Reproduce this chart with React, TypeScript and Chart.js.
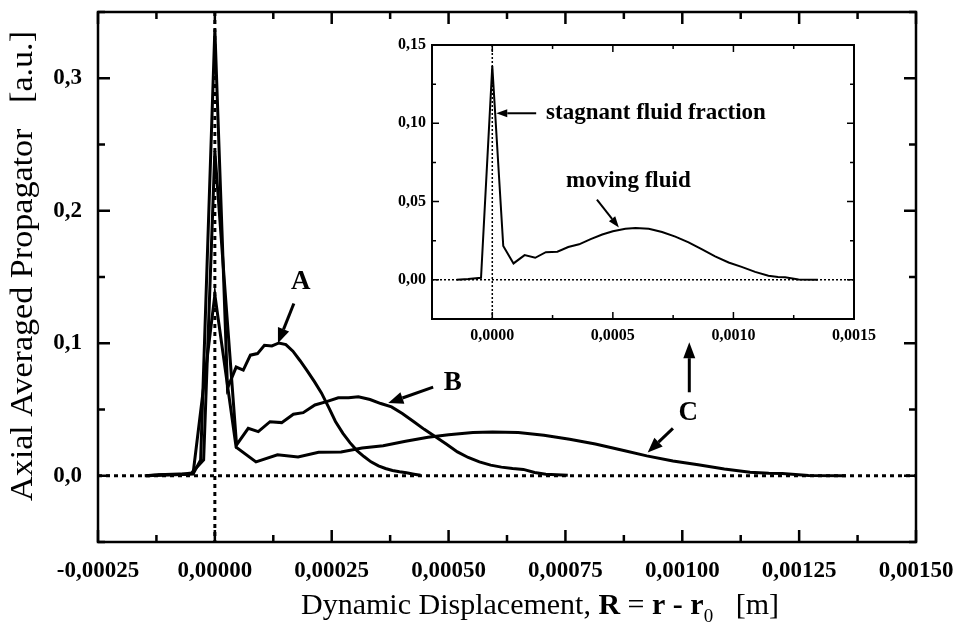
import React, { useEffect, useRef } from 'react';
import { Chart, registerables } from 'chart.js';
Chart.register(...registerables);

const SERIF = '"Liberation Serif", "Times New Roman", serif';

// ---- data (curve A, B, C) ----
const aX = [-0.000144, -0.000122, -0.000106, -0.0000912, -0.000076, -0.0000608, -0.0000456, -0.0000304, -0.0000152, 0, 0.0000152, 0.000027, 0.0000456, 0.0000608, 0.000076, 0.0000912, 0.000106, 0.000122, 0.000137, 0.000152, 0.000167, 0.000182, 0.000198, 0.000213, 0.000228, 0.000243, 0.000258, 0.000274, 0.000289, 0.000304, 0.000319, 0.000334, 0.00035, 0.000365, 0.00038, 0.000395, 0.00041, 0.000426, 0.00044];
const aY = [0, 0.0005, 0.001, 0.0012, 0.0013, 0.0012, 0.002, 0.012, 0.175, 0.337, 0.185, 0.066, 0.082, 0.0797, 0.091, 0.0922, 0.0985, 0.098, 0.1002, 0.099, 0.094, 0.087, 0.079, 0.071, 0.0625, 0.052, 0.041, 0.032, 0.025, 0.019, 0.0145, 0.0105, 0.0075, 0.0055, 0.004, 0.003, 0.0022, 0.0012, 0.0004];

const bX = [-0.00015, -0.00012, -0.00009, -0.00007, -0.00005, -0.000024, 0, 0.000023, 0.0000464, 0.0000714, 0.0000929, 0.000118, 0.000143, 0.000168, 0.000189, 0.000214, 0.000239, 0.000264, 0.000286, 0.000307, 0.000332, 0.000355, 0.000378, 0.000401, 0.000425, 0.000448, 0.000472, 0.000495, 0.000519, 0.000542, 0.000566, 0.00059, 0.000613, 0.000637, 0.00066, 0.000684, 0.000708, 0.000731, 0.000755];
const bY = [0, 0.0008, 0.001, 0.0012, 0.002, 0.012, 0.245, 0.134, 0.0233, 0.0358, 0.0333, 0.0408, 0.0401, 0.0464, 0.0476, 0.0534, 0.0559, 0.0589, 0.0589, 0.0596, 0.0575, 0.0545, 0.052, 0.047, 0.041, 0.035, 0.0295, 0.024, 0.018, 0.0138, 0.0105, 0.008, 0.0065, 0.0055, 0.0048, 0.0025, 0.0012, 0.0008, 0.0003];

const cX = [-0.000148, -0.0001, -0.0000467, 0, 0.0000455, 0.000088, 0.000134, 0.000178, 0.000222, 0.00027, 0.000315, 0.00036, 0.000408, 0.000456, 0.0005, 0.000552, 0.000594, 0.000649, 0.000704, 0.000759, 0.000814, 0.00087, 0.000924, 0.00098, 0.001034, 0.00109, 0.001145, 0.001185, 0.001214, 0.00127, 0.00135];
const cY = [0, 0.0005, 0.0013, 0.1365, 0.0216, 0.0105, 0.0158, 0.0141, 0.0177, 0.018, 0.021, 0.0227, 0.026, 0.029, 0.031, 0.0327, 0.0331, 0.0327, 0.0306, 0.0276, 0.024, 0.0194, 0.015, 0.0111, 0.0083, 0.0051, 0.0026, 0.0018, 0.0017, 0.0002, 0];

// ---- ticks ----
const mainXTicks = [-0.00025, 0, 0.00025, 0.0005, 0.00075, 0.001, 0.00125, 0.0015];
const mainXMinor = [-0.000125, 0.000125, 0.000375, 0.000625, 0.000875, 0.001125, 0.001375];
const mainYTicks = [0, 0.1, 0.2, 0.3];
const mainYMinor = [-0.05, 0.05, 0.15, 0.25, 0.35];
const insetXTicks = [0, 0.0005, 0.001, 0.0015];
const insetXMinor = [-0.00025, 0.00025, 0.00075, 0.00125];
const insetYTicks = [0, 0.05, 0.1, 0.15];
const insetYMinor = [-0.025, 0.025, 0.075, 0.125];

const pts = (xs: number[], ys: number[]) => xs.map((x, i) => ({ x, y: ys[i] }));
const comma = (v: number, d: number) => v.toFixed(d).replace('.', ',');

function drawArrow(ctx: CanvasRenderingContext2D, x1: number, y1: number, x2: number, y2: number, lw: number, hl: number, hw: number) {
  const ang = Math.atan2(y2 - y1, x2 - x1);
  const bx = x2 - hl * Math.cos(ang);
  const by = y2 - hl * Math.sin(ang);
  ctx.lineWidth = lw;
  ctx.beginPath();
  ctx.moveTo(x1, y1);
  ctx.lineTo(bx, by);
  ctx.stroke();
  ctx.beginPath();
  ctx.moveTo(x2, y2);
  ctx.lineTo(bx + (hw / 2) * Math.sin(ang), by - (hw / 2) * Math.cos(ang));
  ctx.lineTo(bx - (hw / 2) * Math.sin(ang), by + (hw / 2) * Math.cos(ang));
  ctx.closePath();
  ctx.fill();
}

function framePlugin(cfg: any) {
  return {
    id: 'frame' + cfg.name,
    beforeDatasetsDraw(chart: any) {
      const { ctx, chartArea, scales } = chart;
      const { left, right, top, bottom } = chartArea;
      const x = scales.x, y = scales.y;
      ctx.save();
      ctx.strokeStyle = '#000';
      ctx.lineWidth = cfg.zeroLw;
      ctx.setLineDash(cfg.zeroDash);
      const y0 = y.getPixelForValue(0);
      const x0 = x.getPixelForValue(0);
      ctx.beginPath();
      ctx.moveTo(left, y0);
      ctx.lineTo(right, y0);
      ctx.moveTo(x0, top);
      ctx.lineTo(x0, bottom);
      ctx.stroke();
      ctx.restore();
    },
    afterDatasetsDraw(chart: any) {
      const { ctx, chartArea, scales } = chart;
      const { left, right, top, bottom } = chartArea;
      const x = scales.x, y = scales.y;
      ctx.save();
      ctx.strokeStyle = '#000';
      ctx.fillStyle = '#000';
      ctx.lineWidth = cfg.lw;
      ctx.strokeRect(left, top, right - left, bottom - top);
      const tick = (vals: number[], len: number) => {
        ctx.beginPath();
        for (const v of vals) {
          const px = x.getPixelForValue(v);
          if (px < left - 1 || px > right + 1) continue;
          ctx.moveTo(px, bottom);
          ctx.lineTo(px, bottom - len);
          ctx.moveTo(px, top);
          ctx.lineTo(px, top + len);
        }
        ctx.stroke();
      };
      const tickY = (vals: number[], len: number) => {
        ctx.beginPath();
        for (const v of vals) {
          const py = y.getPixelForValue(v);
          if (py < top - 1 || py > bottom + 1) continue;
          ctx.moveTo(left, py);
          ctx.lineTo(left + len, py);
          ctx.moveTo(right, py);
          ctx.lineTo(right - len, py);
        }
        ctx.stroke();
      };
      ctx.lineWidth = cfg.tickLw;
      tick(cfg.xMajor, cfg.major);
      tick(cfg.xMinor, cfg.minor);
      tickY(cfg.yMajor, cfg.major);
      tickY(cfg.yMinor, cfg.minor);
      if (cfg.annotate) cfg.annotate(ctx, x, y, chart);
      ctx.restore();
    },
  };
}

function annotateMain(ctx: CanvasRenderingContext2D, x: any, y: any, chart: any) {
  const X = (v: number) => x.getPixelForValue(v);
  const Y = (v: number) => y.getPixelForValue(v);
  ctx.font = `bold 27px ${SERIF}`;
  ctx.textAlign = 'center';
  ctx.textBaseline = 'middle';
  ctx.fillText('A', X(0.000184), Y(0.146));
  ctx.fillText('B', X(0.000509), Y(0.0697));
  ctx.fillText('C', X(0.001013), Y(0.047));
  drawArrow(ctx, X(0.000169), Y(0.13), X(0.000135), Y(0.1), 3, 15, 12);
  drawArrow(ctx, X(0.000467), Y(0.0669), X(0.000371), Y(0.0549), 3, 15, 12);
  drawArrow(ctx, X(0.001015), Y(0.063), X(0.001015), Y(0.1008), 3, 16, 12);
  drawArrow(ctx, X(0.00098), Y(0.0358), X(0.000926), Y(0.0175), 3, 15, 12);

  // y axis title (stretched along its length to the reference span)
  const ca = chart.chartArea;
  ctx.save();
  ctx.font = `31px ${SERIF}`;
  const yTitle = 'Axial Averaged Propagator   [a.u.]';
  const w = ctx.measureText(yTitle).width;
  ctx.translate(24, 266);
  ctx.rotate(-Math.PI / 2);
  ctx.scale(470 / w, 1);
  ctx.textAlign = 'center';
  ctx.textBaseline = 'middle';
  ctx.fillText(yTitle, 0, 0);
  ctx.restore();

  const segs = [
    { t: 'Dynamic Displacement, ', f: `30px ${SERIF}`, dy: 0 },
    { t: 'R', f: `bold 30px ${SERIF}`, dy: 0 },
    { t: ' = ', f: `30px ${SERIF}`, dy: 0 },
    { t: 'r', f: `bold 30px ${SERIF}`, dy: 0 },
    { t: ' - ', f: `bold 30px ${SERIF}`, dy: 0 },
    { t: 'r', f: `bold 30px ${SERIF}`, dy: 0 },
    { t: '0', f: `19px ${SERIF}`, dy: 8 },
    { t: '   [m]', f: `30px ${SERIF}`, dy: 0 },
  ];
  let total = 0;
  for (const s of segs) {
    ctx.font = s.f;
    total += ctx.measureText(s.t).width;
  }
  let cx = 540 - total / 2;
  ctx.textAlign = 'left';
  ctx.textBaseline = 'alphabetic';
  for (const s of segs) {
    ctx.font = s.f;
    ctx.fillText(s.t, cx, 614 + s.dy);
    cx += ctx.measureText(s.t).width;
  }
}

function annotateInset(ctx: CanvasRenderingContext2D, x: any, y: any) {
  const X = (v: number) => x.getPixelForValue(v);
  const Y = (v: number) => y.getPixelForValue(v);
  ctx.font = `bold 23px ${SERIF}`;
  ctx.textAlign = 'left';
  ctx.textBaseline = 'alphabetic';
  ctx.fillText('stagnant fluid fraction', X(0.000223), Y(0.1026));
  ctx.fillText('moving fluid', X(0.000306), Y(0.059));
  drawArrow(ctx, X(0.000182), Y(0.1064), X(0.0000165), Y(0.1064), 2, 11, 8);
  drawArrow(ctx, X(0.000434), Y(0.0513), X(0.000525), Y(0.0335), 2, 11, 8);
}

const noPadX = (h: number) => (s: any) => { s.height = h; s.paddingLeft = 0; s.paddingRight = 0; };
const noPadY = (w: number) => (s: any) => { s.width = w; s.paddingTop = 0; s.paddingBottom = 0; };

export default function App() {
  const mainRef = useRef<HTMLCanvasElement>(null);
  const insetRef = useRef<HTMLCanvasElement>(null);

  useEffect(() => {
    document.body.style.margin = '0';
    const line = (data: any[], w: number) => ({
      data,
      showLine: true,
      borderColor: '#000',
      borderWidth: w,
      pointRadius: 0,
      tension: 0,
      fill: false,
      borderJoinStyle: 'miter' as const,
    });

    const main = new Chart(mainRef.current!, {
      type: 'scatter',
      data: {
        datasets: [line(pts(aX, aY), 3), line(pts(bX, bY), 3), line(pts(cX, cY), 3)],
      },
      options: {
        animation: false,
        responsive: false,
        events: [],
        layout: { padding: { left: 0, top: 12, right: 41, bottom: 0 } },
        plugins: { legend: { display: false }, tooltip: { enabled: false } },
        scales: {
          x: {
            type: 'linear',
            min: -0.00025,
            max: 0.0015,
            afterBuildTicks: (s: any) => { s.ticks = mainXTicks.map((v) => ({ value: v })); },
            afterFit: noPadX(85),
            grid: { display: false, drawTicks: false },
            border: { display: false },
            ticks: {
              autoSkip: false,
              maxRotation: 0,
              padding: 15,
              color: '#000',
              font: { family: SERIF, size: 23, weight: 'bold' },
              callback: (v: any) => comma(Number(v), 5),
            },
          },
          y: {
            type: 'linear',
            min: -0.05,
            max: 0.35,
            afterBuildTicks: (s: any) => { s.ticks = mainYTicks.map((v) => ({ value: v })); },
            afterFit: noPadY(98),
            grid: { display: false, drawTicks: false },
            border: { display: false },
            ticks: {
              padding: 16,
              color: '#000',
              font: { family: SERIF, size: 23, weight: 'bold' },
              callback: (v: any) => comma(Number(v), 1),
            },
          },
        },
      },
      plugins: [
        framePlugin({
          name: 'main', lw: 2.5, tickLw: 2.5, major: 12, minor: 7,
          xMajor: mainXTicks, xMinor: mainXMinor, yMajor: mainYTicks, yMinor: mainYMinor,
          zeroLw: 3, zeroDash: [4, 4], annotate: annotateMain,
        }),
      ],
    } as any);

    const inset = new Chart(insetRef.current!, {
      type: 'scatter',
      data: { datasets: [line(pts(cX, cY), 2)] },
      options: {
        animation: false,
        responsive: false,
        events: [],
        layout: { padding: { left: 0, top: 15, right: 26, bottom: 0 } },
        plugins: { legend: { display: false }, tooltip: { enabled: false } },
        scales: {
          x: {
            type: 'linear',
            min: -0.00025,
            max: 0.0015,
            afterBuildTicks: (s: any) => { s.ticks = insetXTicks.map((v) => ({ value: v })); },
            afterFit: noPadX(31),
            grid: { display: false, drawTicks: false },
            border: { display: false },
            ticks: {
              autoSkip: false,
              maxRotation: 0,
              padding: 7,
              color: '#000',
              font: { family: SERIF, size: 16, weight: 'bold' },
              callback: (v: any) => comma(Number(v), 4),
            },
          },
          y: {
            type: 'linear',
            min: -0.025,
            max: 0.15,
            afterBuildTicks: (s: any) => { s.ticks = insetYTicks.map((v) => ({ value: v })); },
            afterFit: noPadY(52),
            grid: { display: false, drawTicks: false },
            border: { display: false },
            ticks: {
              padding: 6,
              color: '#000',
              font: { family: SERIF, size: 16, weight: 'bold' },
              callback: (v: any) => comma(Number(v), 2),
            },
          },
        },
      },
      plugins: [
        framePlugin({
          name: 'inset', lw: 2, tickLw: 1.5, major: 7, minor: 4,
          xMajor: insetXTicks, xMinor: insetXMinor, yMajor: insetYTicks, yMinor: insetYMinor,
          zeroLw: 1.5, zeroDash: [2, 2], annotate: annotateInset,
        }),
      ],
    } as any);

    return () => {
      main.destroy();
      inset.destroy();
    };
  }, []);

  return (
    <div style={{ position: 'relative', width: 957, height: 627, background: '#fff' }}>
      <canvas ref={mainRef} width={957} height={627} style={{ position: 'absolute', left: 0, top: 0 }} />
      <canvas ref={insetRef} width={500} height={320} style={{ position: 'absolute', left: 380, top: 30 }} />
    </div>
  );
}
